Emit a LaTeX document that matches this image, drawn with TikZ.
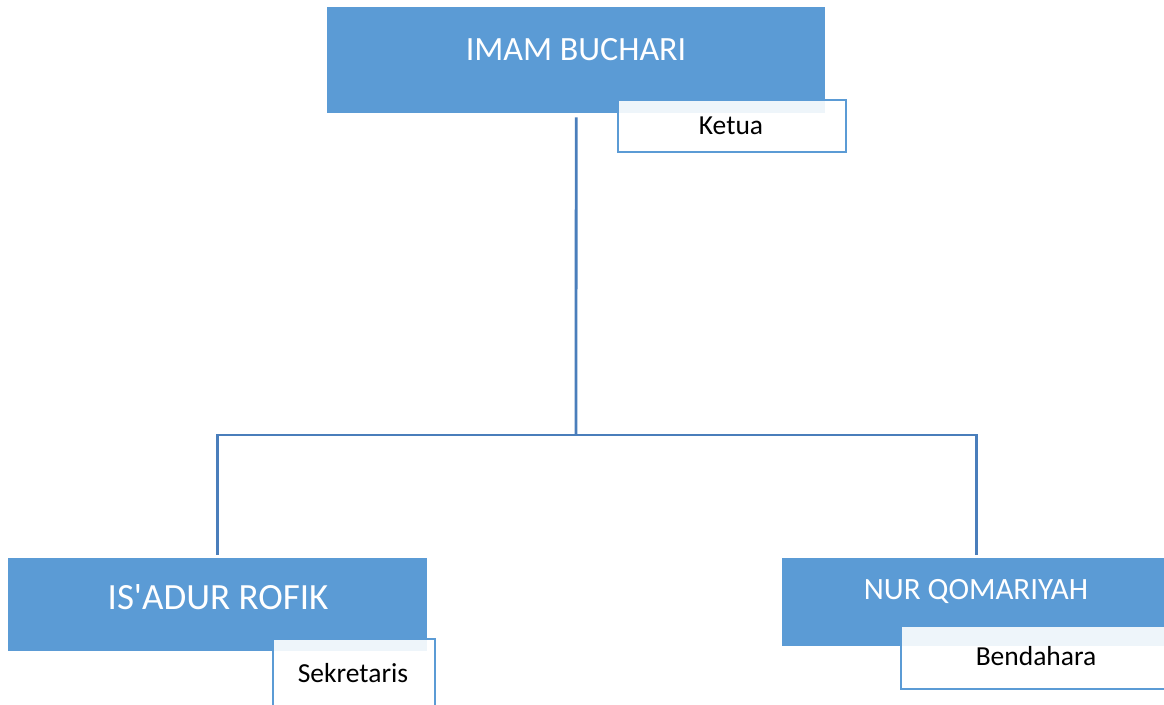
\documentclass[tikz,border=0pt]{standalone}
\usepackage{fontspec}
\setmainfont{Carlito}
\definecolor{boxblue}{HTML}{5B9BD5}
\definecolor{linkblue}{HTML}{4A7EBB}
\begin{document}
\begin{tikzpicture}[x=1pt,y=-1pt,
  namebox/.style={draw=none,fill=boxblue,inner sep=0pt,anchor=north west},
  rolebox/.style={draw=boxblue,line width=2pt,fill=white,fill opacity=0.9,text opacity=1,inner sep=0pt,anchor=north west},
  nametext/.style={text=white,inner sep=0pt},
  roletext/.style={text=black,inner sep=0pt,font=\fontsize{27.5}{32}\selectfont},
  conn/.style={draw=linkblue,line width=2.8pt}]
\useasboundingbox (0,0) rectangle (1164,704);
\clip (0,0) rectangle (1164,704);
% boxes
\node[namebox,minimum width=498pt,minimum height=106pt] (top) at (327,7) {};
\node[namebox,minimum width=419pt,minimum height=93pt] (left) at (8,558) {};
\node[namebox,minimum width=388pt,minimum height=88pt] (right) at (782,558) {};
% role boxes
\node[rolebox,minimum width=228pt,minimum height=52pt] (ketuabox) at (617,99) {};
\node[rolebox,minimum width=162pt,minimum height=80pt] (sekbox) at (272,638) {};
\node[rolebox,minimum width=280pt,minimum height=63pt] (benbox) at (900,625) {};
% texts
\node[nametext,font=\fontsize{34}{40}\selectfont] (t1) at (576,50) {IMAM BUCHARI};
\node[nametext,font=\fontsize{37}{44}\selectfont] (t2) at (218,597) {IS\textquotesingle ADUR ROFIK};
\node[nametext,font=\fontsize{31}{37}\selectfont] (t3) at (976,591) {NUR QOMARIYAH};
\node[roletext] (r1) at (731,126) {Ketua};
\node[roletext] (r2) at (353,673) {Sekretaris};
\node[roletext] (r3) at (1036,656) {Bendahara};
% connectors
\coordinate (j) at (576,435);
\draw[conn] ([yshift=-4pt]top.south) -- (j);
\draw[conn] (j) -| ([yshift=3pt]left.north);
\draw[conn] (j) -| ([yshift=3pt]right.north);
\end{tikzpicture}
\end{document}
